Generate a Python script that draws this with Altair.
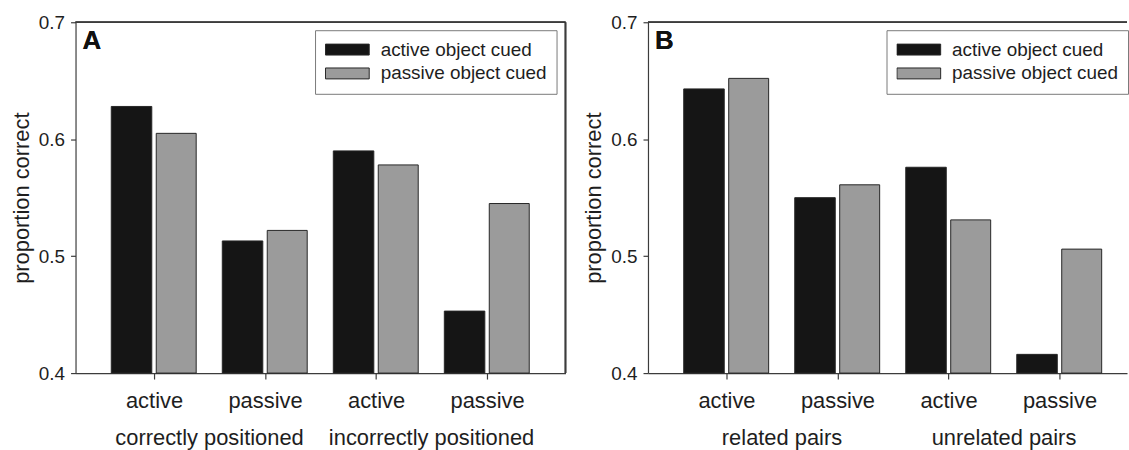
import json
import altair as alt
import pandas as pd

# ---------------- data ----------------
series_names = ["active object cued", "passive object cued"]
pos_labels = ["active", "passive", "active", "passive"]

a_group_labels = ["correctly positioned", "incorrectly positioned"]
a_active_cued = [0.628, 0.513, 0.590, 0.453]
a_passive_cued = [0.605, 0.522, 0.578, 0.545]

b_group_labels = ["related pairs", "unrelated pairs"]
b_active_cued = [0.643, 0.550, 0.576, 0.416]
b_passive_cued = [0.652, 0.561, 0.531, 0.506]

y_ticks = [0.4, 0.5, 0.6, 0.7]

# ---------------- style ----------------
FONT = "Liberation Sans"
BLACK = "#151515"
GRAY = "#9b9b9b"
EDGE = "#262626"
AXIS = "#3c3c3c"
TEXT = "#1e1e1e"
PLOT_H = 353
X_MIN = 0.293


def panel(active, passive, groups, letter, width, x_max, legend_x, show_right):
    rows = []
    for i, (va, vp) in enumerate(zip(active, passive)):
        pos = i + 1
        rows.append({"pos": pos, "series": series_names[0], "value": va,
                     "x0": pos - 0.385, "x1": pos - 0.02, "base": 0.4})
        rows.append({"pos": pos, "series": series_names[1], "value": vp,
                     "x0": pos + 0.02, "x1": pos + 0.38, "base": 0.4})
    df = pd.DataFrame(rows)
    gdf = pd.DataFrame({"center": [1.5, 3.5], "label": groups})

    xscale = alt.Scale(domain=[X_MIN, x_max], nice=False, zero=False)
    yscale = alt.Scale(domain=[0.4, 0.7], nice=False, zero=False)
    label_expr = json.dumps([""] + pos_labels) + "[datum.value]"

    bars = alt.Chart(df).mark_bar(stroke=EDGE, strokeWidth=1).encode(
        x=alt.X("x0:Q", scale=xscale,
                axis=alt.Axis(values=[1, 2, 3, 4], labelExpr=label_expr, title=None,
                              grid=False, tickSize=6, labelFontSize=22,
                              labelPadding=12, labelOverlap=False, labelFlush=False,
                              labelBound=False)),
        x2="x1:Q",
        y=alt.Y("value:Q", scale=yscale,
                axis=alt.Axis(values=y_ticks, format=".1f", title="proportion correct",
                              grid=False, tickSize=5, labelFontSize=19, labelPadding=6,
                              titleFontSize=22, titlePadding=5, titleFontWeight="normal")),
        y2="base:Q",
        color=alt.Color("series:N",
                        scale=alt.Scale(domain=series_names, range=[BLACK, GRAY]),
                        legend=alt.Legend(title=None, orient="none", legendX=legend_x, legendY=8,
                                          direction="vertical",
                                          symbolType="M-1,-0.25H1V0.25H-1Z", symbolSize=1936,
                                          symbolStrokeColor=EDGE, symbolStrokeWidth=1,
                                          symbolOpacity=1, clipHeight=19, rowPadding=4,
                                          labelFont=FONT, labelFontSize=19, labelColor=TEXT,
                                          labelOffset=11, labelLimit=400, padding=10,
                                          strokeColor="#7a7a7a", fillColor="white")),
    )

    top_rule = alt.Chart(df).mark_rule(color=AXIS, strokeWidth=1.2).encode(
        y=alt.datum(0.7))
    layers = [bars, top_rule]
    if show_right:
        right_rule = alt.Chart(df).mark_rule(color=AXIS, strokeWidth=1.2).encode(
            x=alt.datum(x_max))
        layers.append(right_rule)

    letter_txt = alt.Chart(gdf).mark_text(
        text=letter, font=FONT, fontSize=26, fontWeight="bold", color="#111",
        align="left", baseline="alphabetic").encode(x=alt.value(7), y=alt.value(27))
    group_txt = alt.Chart(gdf).mark_text(
        font=FONT, fontSize=22, color=TEXT, align="center", baseline="alphabetic").encode(
        x=alt.X("center:Q"), y=alt.value(425), text="label:N")
    layers += [letter_txt, group_txt]

    return alt.layer(*layers).properties(width=width, height=PLOT_H)


step = 111.7
width_a = 493
width_b = 482
chart_a = panel(a_active_cued, a_passive_cued, a_group_labels, "A",
                width_a, X_MIN + width_a / step, 241, True)
chart_b = panel(b_active_cued, b_passive_cued, b_group_labels, "B",
                width_b, X_MIN + width_b / step, 240, False)

chart = alt.hconcat(chart_a, chart_b, spacing=16).resolve_scale(
    x="independent", y="independent", color="independent"
).resolve_legend(color="independent").properties(
    padding={"left": 10, "top": 12, "right": 0, "bottom": 0},
    background="white",
).configure_view(stroke=None).configure_axis(
    labelFont=FONT, titleFont=FONT, labelColor=TEXT, titleColor=TEXT,
    domainColor=AXIS, tickColor=AXIS, domainWidth=1.2, tickWidth=1.2,
)

chart.save("out.html", embed_options={"renderer": "svg", "actions": False})
